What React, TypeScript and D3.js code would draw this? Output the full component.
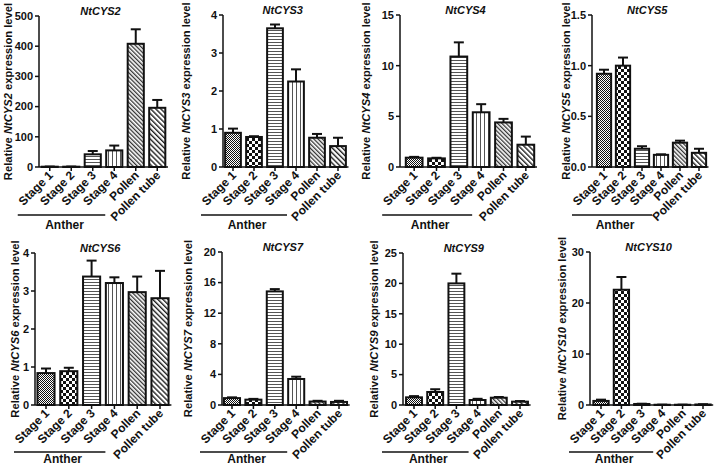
import React from "react";
import * as d3 from "d3";

const categories = ["Stage 1", "Stage 2", "Stage 3", "Stage 4", "Pollen", "Pollen tube"];
const genes = ["NtCYS2", "NtCYS3", "NtCYS4", "NtCYS5", "NtCYS6", "NtCYS7", "NtCYS9", "NtCYS10"];
const yMaxes = [500, 4, 15, 1.5, 4, 20, 25, 30];
const yTickLabels = [
  ["0", "100", "200", "300", "400", "500"],
  ["0", "1", "2", "3", "4"],
  ["0", "5", "10", "15"],
  ["0.0", "0.5", "1.0", "1.5"],
  ["0", "1", "2", "3", "4"],
  ["0", "4", "8", "12", "16", "20"],
  ["0", "5", "10", "15", "20", "25"],
  ["0", "10", "20", "30"],
];

const cys2 = [1, 1, 42, 55, 408, 196];
const cys2Err = [0.5, 0.5, 11, 16, 48, 26];
const cys3 = [0.9, 0.79, 3.65, 2.25, 0.77, 0.55];
const cys3Err = [0.11, 0.02, 0.1, 0.32, 0.1, 0.22];
const cys4 = [0.92, 0.85, 10.9, 5.4, 4.4, 2.2];
const cys4Err = [0.08, 0.06, 1.4, 0.8, 0.35, 0.8];
const cys5 = [0.92, 1.0, 0.18, 0.12, 0.24, 0.14];
const cys5Err = [0.04, 0.08, 0.025, 0.005, 0.02, 0.04];
const cys6 = [0.84, 0.89, 3.38, 3.21, 2.97, 2.81];
const cys6Err = [0.12, 0.09, 0.42, 0.15, 0.41, 0.72];
const cys7 = [0.9, 0.7, 14.85, 3.4, 0.45, 0.4];
const cys7Err = [0.1, 0.1, 0.3, 0.3, 0.1, 0.15];
const cys9 = [1.26, 2.14, 20.0, 0.82, 1.2, 0.55];
const cys9Err = [0.2, 0.45, 1.6, 0.2, 0.12, 0.1];
const cys10 = [0.8, 22.6, 0.2, 0.05, 0.05, 0.1];
const cys10Err = [0.25, 2.5, 0.05, 0.02, 0.02, 0.05];

const values = [cys2, cys3, cys4, cys5, cys6, cys7, cys9, cys10];
const errors = [cys2Err, cys3Err, cys4Err, cys5Err, cys6Err, cys7Err, cys9Err, cys10Err];

// layout (pixel positions of each panel)
const layouts = [
  { ax: 39, x0: 39, x1: 168, yTop: 16, yBot: 167, yl: 8, anther: 215, antherText: 229 },
  { ax: 223, x0: 222.5, x1: 348.5, yTop: 15, yBot: 167, yl: 186, anther: 215, antherText: 229 },
  { ax: 400, x0: 403, x1: 537, yTop: 15, yBot: 167, yl: 366, anther: 215, antherText: 229 },
  { ax: 592, x0: 594.5, x1: 708.5, yTop: 15, yBot: 167, yl: 566, anther: 215, antherText: 229 },
  { ax: 35, x0: 34.6, x1: 171.4, yTop: 253, yBot: 405, yl: 15, anther: 452, antherText: 463 },
  { ax: 222, x0: 221.3, x1: 349.7, yTop: 252, yBot: 405, yl: 188, anther: 452, antherText: 463 },
  { ax: 403, x0: 403.4, x1: 530.6, yTop: 253, yBot: 405, yl: 374, anther: 452, antherText: 463 },
  { ax: 590, x0: 590.8, x1: 713.2, yTop: 252, yBot: 405, yl: 562, anther: 452, antherText: 463 },
];

const patternIds = ["pS1", "pS2", "pS3", "pS4", "pPol", "pTube"];
const FONT = "'Liberation Sans', Arial, sans-serif";

function Panel({ i }: { i: number }) {
  const L = layouts[i];
  const x = d3.scaleBand<string>().domain(categories).range([L.x0, L.x1]).paddingInner(0.25).paddingOuter(0.125);
  const y = d3.scaleLinear().domain([0, yMaxes[i]]).range([L.yBot, L.yTop]);
  const vals = values[i];
  const errs = errors[i];
  const bw = x.bandwidth();
  const c0 = (x(categories[0]) as number) + bw / 2;
  const c3 = (x(categories[3]) as number) + bw / 2;
  const lineStart = c0 - 32;
  const lineEnd = c3 - 9;
  return (
    <g fontFamily={FONT} fontWeight="bold">
      {categories.map((c, k) => {
        const bx = x(c) as number;
        const top = y(vals[k]);
        return (
          <rect key={c} x={bx} y={top} width={bw} height={Math.max(0, L.yBot - top)}
            fill={`url(#${patternIds[k]})`} stroke="#111" strokeWidth={2} />
        );
      })}
      {categories.map((c, k) => {
        const cx = (x(c) as number) + bw / 2;
        const top = y(vals[k]);
        const et = y(vals[k] + errs[k]);
        return (
          <g key={c} stroke="#111" strokeWidth={2}>
            <line x1={cx} x2={cx} y1={top} y2={et} />
            <line x1={cx - 5} x2={cx + 5} y1={et} y2={et} />
          </g>
        );
      })}
      <line x1={L.ax} x2={L.ax} y1={L.yTop} y2={L.yBot} stroke="#111" strokeWidth={1.5} />
      <line x1={L.ax} x2={L.x1} y1={L.yBot} y2={L.yBot} stroke="#111" strokeWidth={1.5} />
      {yTickLabels[i].map((t) => {
        const ty = y(Number(t));
        return (
          <g key={t}>
            <line x1={L.ax - 4} x2={L.ax} y1={ty} y2={ty} stroke="#111" strokeWidth={1.5} />
            <text x={L.ax - 6} y={ty} dy="0.35em" textAnchor="end" fontSize={11} fill="#111">{t}</text>
          </g>
        );
      })}
      {categories.map((c) => {
        const cx = (x(c) as number) + bw / 2;
        return (
          <g key={c}>
            <line x1={cx} x2={cx} y1={L.yBot} y2={L.yBot + 4} stroke="#111" strokeWidth={1.5} />
            <text transform={`translate(${cx + 4},${L.yBot + 9}) rotate(-45)`} textAnchor="end" fontSize={12} fill="#111">{c}</text>
          </g>
        );
      })}
      <text x={(L.ax + L.x1) / 2 - 3} y={L.yTop - 1} textAnchor="middle" fontSize={11} fontStyle="italic" fill="#111">{genes[i]}</text>
      <text transform={`translate(${L.yl},${(L.yTop + L.yBot) / 2}) rotate(-90)`} textAnchor="middle" dy="0.35em" fontSize={11.2} fill="#111">
        <tspan>Relative </tspan>
        <tspan fontStyle="italic">{genes[i]}</tspan>
        <tspan> expression level</tspan>
      </text>
      <line x1={lineStart} x2={lineEnd} y1={L.anther} y2={L.anther} stroke="#111" strokeWidth={1.5} />
      <text x={(lineStart + lineEnd) / 2 + 3} y={L.antherText} textAnchor="middle" fontSize={12} fill="#111">Anther</text>
    </g>
  );
}

export default function App() {
  return (
    <svg width={721} height={467} style={{ position: "absolute", left: 0, top: 0, background: "#fff" }}>
      <defs>
        <pattern id="pS1" patternUnits="userSpaceOnUse" width={2} height={2}>
          <rect width={2} height={2} fill="#fff" />
          <rect width={1} height={1} fill="#111" />
          <rect x={1} y={1} width={1} height={1} fill="#111" />
        </pattern>
        <pattern id="pS2" patternUnits="userSpaceOnUse" width={6} height={6}>
          <rect width={6} height={6} fill="#fff" />
          <rect width={3} height={3} fill="#111" />
          <rect x={3} y={3} width={3} height={3} fill="#111" />
        </pattern>
        <pattern id="pS3" patternUnits="userSpaceOnUse" width={4} height={3}>
          <rect width={4} height={3} fill="#fff" />
          <rect y={0} width={4} height={1} fill="#555" />
        </pattern>
        <pattern id="pS4" patternUnits="userSpaceOnUse" width={4} height={4}>
          <rect width={4} height={4} fill="#fff" />
          <rect x={0} width={1} height={4} fill="#555" />
        </pattern>
        <pattern id="pPol" patternUnits="userSpaceOnUse" width={3} height={3} patternTransform="rotate(-45)">
          <rect width={3} height={3} fill="#fff" />
          <rect width={1.3} height={3} fill="#333" />
        </pattern>
        <pattern id="pTube" patternUnits="userSpaceOnUse" width={3.6} height={4} patternTransform="rotate(-45)">
          <rect width={3.6} height={4} fill="#fff" />
          <rect width={1.4} height={4} fill="#222" />
        </pattern>
      </defs>
      <rect width={721} height={467} fill="#fff" />
      {genes.map((g, i) => (
        <Panel key={g} i={i} />
      ))}
    </svg>
  );
}
